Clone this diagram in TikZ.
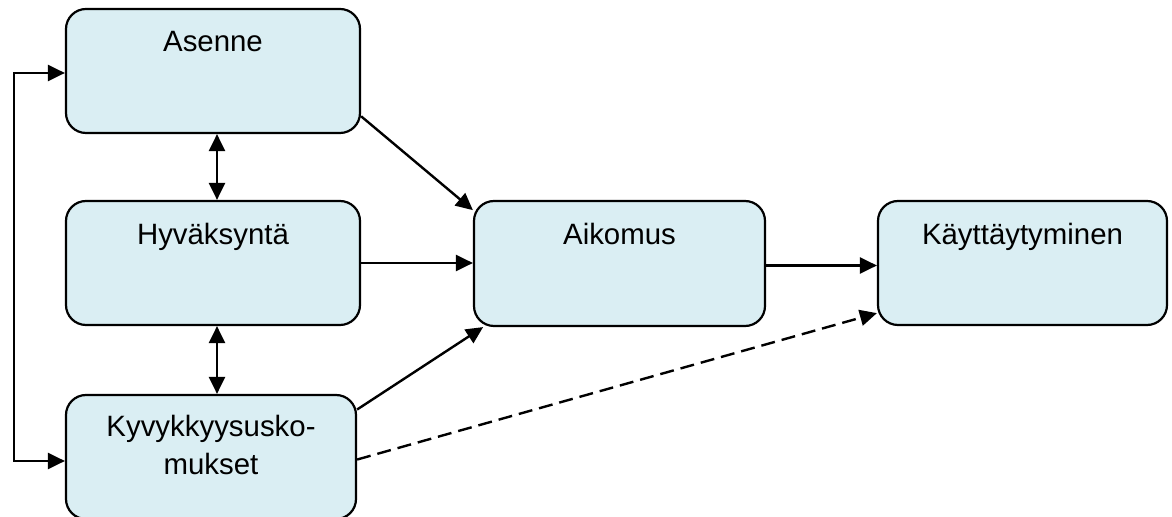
\documentclass[tikz,border=0pt]{standalone}
\usepackage{fontspec}
\setmainfont{Liberation Sans}
\usetikzlibrary{arrows.meta}
\definecolor{boxfill}{HTML}{DAEEF3}
\begin{document}
\begin{tikzpicture}[x=0.5pt,y=-0.5pt,
  box/.style={draw=black,fill=boxfill,line width=1.1pt,rounded corners=10pt,inner sep=0pt,minimum height=62pt},
  lbl/.style={anchor=base,inner sep=0pt,font=\fontsize{14.7pt}{19pt}\selectfont,align=center},
  tip/.style={Triangle[length=8.5pt,width=8pt]},
  conn/.style={line width=1.2pt,-{Triangle[length=8.5pt,width=8pt]}},
  biconn/.style={line width=1.2pt,{Triangle[length=8.5pt,width=8pt]}-{Triangle[length=8.5pt,width=8pt]}},
  dashconn/.style={conn,dash pattern=on 7pt off 3.5pt}]
\useasboundingbox (0,0) rectangle (1172,517);
\node[box,minimum width=147pt] (A) at (213,71) {};
\node[box,minimum width=147pt] (H) at (213,263) {};
\node[box,minimum width=145pt] (K) at (211,457) {};
\node[box,minimum width=145.5pt,minimum height=62.5pt] (I) at (619.5,263.5) {};
\node[box,minimum width=144.5pt] (B) at (1022.5,263) {};
\node[lbl] (Al) at (213,52) {Asenne};
\node[lbl] (Hl) at (213,245) {Hyväksyntä};
\node[lbl] (Il) at (619.5,245) {Aikomus};
\node[lbl] (Bl) at (1022.5,245) {Käyttäytyminen};
\node[lbl] (Kl1) at (211,437) {Kyvykkyysusko-};
\node[lbl] (Kl2) at (211,475) {mukset};
\coordinate (lx) at (14,0);
\coordinate (vx) at (217,0);
\draw[biconn] (A.south -| vx) -- (H.north -| vx);
\draw[biconn] (H.south -| vx) -- (K.north -| vx);
\draw[biconn] ([yshift=-1pt]A.west) -- ([yshift=-1pt]A.west -| lx) -- ([yshift=-2pt]K.west -| lx) -- ([yshift=-2pt]K.west);
\draw[conn] (A.-17.7) -- (I.160.5);
\draw[conn] (H.east) -- (H.east -| I.west);
\draw[conn] (K.18.7) -- (I.-155.6);
\draw[conn] ([yshift=-1pt]I.east) -- ([yshift=-1pt]I.east -| B.west);
\draw[dashconn] (K.-1.6) -- (B.-161.3);
\end{tikzpicture}
\end{document}
